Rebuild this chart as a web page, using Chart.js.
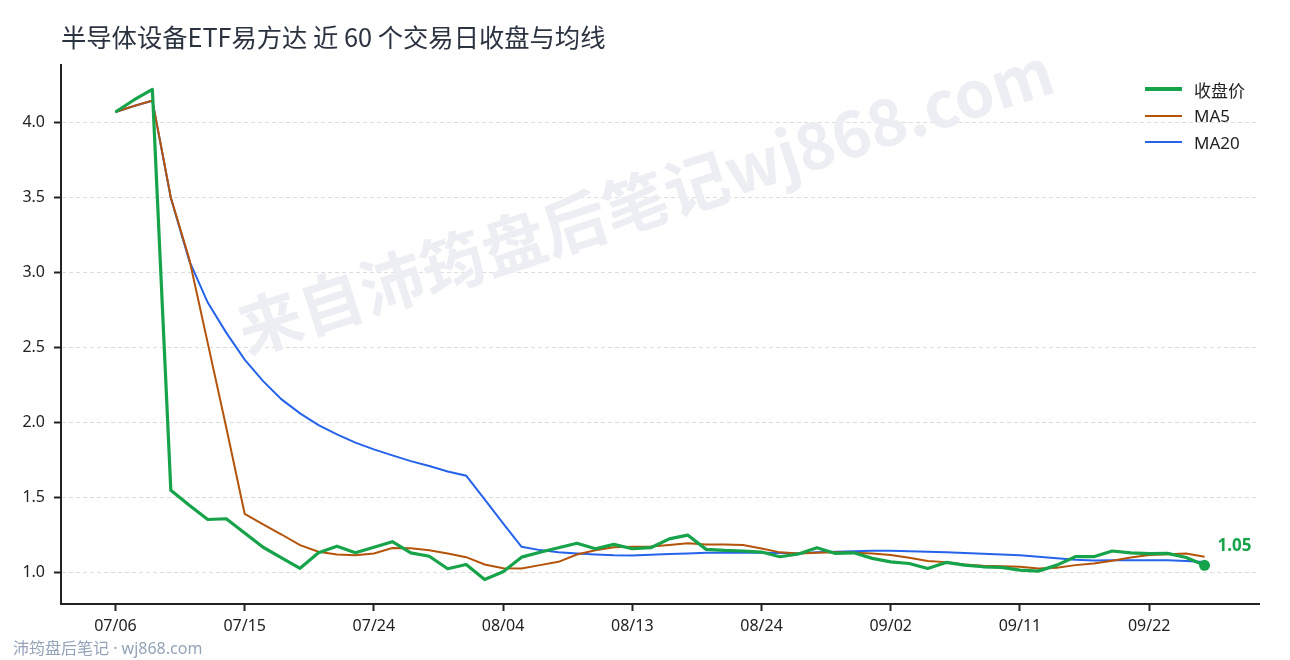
<!DOCTYPE html>
<html>
<head>
<meta charset="utf-8">
<script src="https://cdn.jsdelivr.net/npm/chart.js@4/dist/chart.umd.min.js"></script>
<style>
  html, body { margin: 0; padding: 0; background: #ffffff; }
  body { width: 1290px; height: 660px; position: relative; overflow: hidden; font-family: "Noto Sans", "Noto Sans CJK SC", sans-serif; }
  #c { position: absolute; left: 0; top: 0; }
  #title { position: absolute; left: 61px; top: 18px; font-size: 25.3px; color: #2b3240; white-space: nowrap; line-height: 36px; font-family: "Noto Sans CJK SC", sans-serif; }
  #footer { position: absolute; left: 13px; top: 637px; font-size: 16px; color: #94a3b8; white-space: nowrap; line-height: 22px; font-family: "Noto Sans", "Noto Sans CJK SC", sans-serif; }
  .leg { position: absolute; left: 1145px; height: 20px; display: flex; align-items: center; white-space: nowrap; font-size: 17px; color: #222; font-family: "Noto Sans", "Noto Sans CJK SC", sans-serif; }
  .leg .sw { width: 37px; margin-right: 12px; }
</style>
</head>
<body>
<canvas id="c" width="1290" height="660"></canvas>
<div id="title">半导体设备ETF易方达 近 60 个交易日收盘与均线</div>
<div id="footer">沛筠盘后笔记 · wj868.com</div>
<div id="legend"></div>
<script>
// ---- data ----
const dates = ['07/06','07/07','07/08','07/09','07/10','07/13','07/14','07/15','07/16','07/17',
  '07/20','07/21','07/22','07/23','07/24','07/27','07/28','07/29','07/30','07/31',
  '08/03','08/04','08/05','08/06','08/07','08/10','08/11','08/12','08/13','08/14',
  '08/17','08/18','08/19','08/20','08/21','08/24','08/25','08/26','08/27','08/28',
  '08/31','09/01','09/02','09/03','09/04','09/07','09/08','09/09','09/10','09/11',
  '09/14','09/15','09/16','09/17','09/18','09/21','09/22','09/23','09/24','09/25'];
const closePrice = [4.07,4.15,4.22,1.55,1.45,1.355,1.36,1.265,1.17,1.10,
  1.03,1.133,1.177,1.133,1.17,1.207,1.133,1.11,1.027,1.055,
  0.955,1.007,1.104,1.137,1.167,1.197,1.16,1.189,1.16,1.167,
  1.226,1.251,1.156,1.149,1.145,1.138,1.107,1.125,1.167,1.129,
  1.133,1.096,1.073,1.062,1.029,1.069,1.051,1.04,1.036,1.018,
  1.011,1.051,1.107,1.107,1.145,1.133,1.127,1.129,1.102,1.05];
const ma5 = [4.07,4.11,4.147,3.50,3.09,2.53,1.97,1.393,1.322,1.255,
  1.184,1.14,1.122,1.117,1.129,1.165,1.164,1.15,1.129,1.104,
  1.055,1.031,1.029,1.051,1.073,1.122,1.15,1.17,1.173,1.175,
  1.185,1.196,1.189,1.189,1.185,1.162,1.136,1.129,1.133,1.136,
  1.133,1.129,1.118,1.10,1.078,1.071,1.056,1.047,1.044,1.04,
  1.029,1.033,1.051,1.062,1.08,1.102,1.118,1.124,1.129,1.107];
const ma20 = [4.07,4.11,4.145,3.497,3.077,2.80,2.60,2.42,2.277,2.155,
  2.062,1.984,1.922,1.867,1.822,1.782,1.744,1.711,1.675,1.647,
  1.489,1.329,1.173,1.151,1.137,1.129,1.122,1.117,1.115,1.12,
  1.125,1.129,1.133,1.133,1.133,1.133,1.131,1.129,1.136,1.14,
  1.144,1.147,1.147,1.144,1.14,1.136,1.131,1.127,1.122,1.116,
  1.107,1.096,1.087,1.082,1.084,1.084,1.084,1.084,1.078,1.071];
const xTickLabels = ['07/06','07/15','07/24','08/04','08/13','08/24','09/02','09/11','09/22'];
const yTickValues = [1.0,1.5,2.0,2.5,3.0,3.5,4.0];
const seriesNames = ['收盘价','MA5','MA20'];
const seriesColors = ['#16a34a','#b45309','#2563eb'];
const watermarkText = '来自沛筠盘后笔记wj868.com';

// ---- legend (HTML) ----
const legendEl = document.getElementById('legend');
const legTops = [79, 105.5, 132];
const legWidths = [3.5, 2, 2];
seriesNames.forEach((n, i) => {
  const d = document.createElement('div');
  d.className = 'leg';
  d.style.top = legTops[i] + 'px';
  d.innerHTML = '<div class="sw" style="height:' + legWidths[i] + 'px;background:' + seriesColors[i] + '"></div><span>' + n + '</span>';
  legendEl.appendChild(d);
});

const toPts = arr => arr.map((v, i) => ({ x: i, y: v }));
const lastIdx = closePrice.length - 1;
const font = '"Noto Sans", "Noto Sans CJK SC", sans-serif';
const cjkFont = '"Noto Sans CJK SC", sans-serif';

const watermark = {
  id: 'watermark',
  beforeDatasetsDraw(chart) {
    const ctx = chart.ctx;
    ctx.save();
    ctx.translate(645, 200);
    ctx.rotate(-18 * Math.PI / 180);
    ctx.font = 'bold 64px ' + cjkFont;
    ctx.fillStyle = '#eceef3';
    ctx.textAlign = 'center';
    ctx.textBaseline = 'middle';
    ctx.fillText(watermarkText, 0, 0);
    ctx.restore();
  }
};

const endLabel = {
  id: 'endLabel',
  afterDatasetsDraw(chart) {
    const ctx = chart.ctx;
    const xs = chart.scales.x, ys = chart.scales.y;
    const v = closePrice[lastIdx];
    const px = xs.getPixelForValue(lastIdx), py = ys.getPixelForValue(v);
    ctx.save();
    ctx.font = 'bold 17px ' + font;
    ctx.fillStyle = seriesColors[0];
    ctx.textAlign = 'left';
    ctx.textBaseline = 'middle';
    ctx.fillText(v.toFixed(2), px + 13, py - 19);
    ctx.restore();
  }
};

new Chart(document.getElementById('c'), {
  type: 'line',
  data: {
    datasets: [
      { label: seriesNames[2], data: toPts(ma20), borderColor: seriesColors[2], borderWidth: 2, pointRadius: 0, tension: 0, order: 3 },
      { label: seriesNames[1], data: toPts(ma5), borderColor: seriesColors[1], borderWidth: 2, pointRadius: 0, tension: 0, order: 2 },
      { label: seriesNames[0], data: toPts(closePrice), borderColor: seriesColors[0], backgroundColor: seriesColors[0], borderWidth: 3.2,
        borderJoinStyle: 'round',
        pointRadius: c => c.dataIndex === lastIdx ? 5.5 : 0,
        pointHoverRadius: 0, pointBorderWidth: 0, tension: 0, order: 1 }
    ]
  },
  options: {
    responsive: false,
    animation: false,
    events: [],
    layout: { padding: { top: 65, right: 31, left: 0, bottom: 0 } },
    plugins: { legend: { display: false }, tooltip: { enabled: false }, title: { display: false } },
    scales: {
      x: {
        type: 'linear',
        min: -2.95, max: 61.95,
        afterFit: s => { s.height = 56; },
        afterBuildTicks: s => { s.ticks = xTickLabels.map(l => ({ value: dates.indexOf(l) })); },
        ticks: { callback: v => dates[v], font: { size: 16, family: font }, color: '#222', padding: 6, maxRotation: 0, autoSkip: false },
        grid: { display: true, drawOnChartArea: false, drawTicks: true, tickLength: 7, tickColor: '#222', tickWidth: 2 },
        border: { display: true, color: '#222', width: 2 }
      },
      y: {
        type: 'linear',
        min: 0.792, max: 4.383,
        afterFit: s => { s.width = 61; },
        afterBuildTicks: s => { s.ticks = yTickValues.map(v => ({ value: v })); },
        ticks: { callback: v => v.toFixed(1), font: { size: 16, family: font }, color: '#222', padding: 9, autoSkip: false },
        grid: { display: true, drawOnChartArea: true, drawTicks: true, tickLength: 7, color: '#dddddd', lineWidth: 1, tickColor: '#222', tickWidth: 2 },
        border: { display: true, color: '#222', width: 2, dash: [4, 3] }
      }
    }
  },
  plugins: [watermark, endLabel]
});
</script>
</body>
</html>
